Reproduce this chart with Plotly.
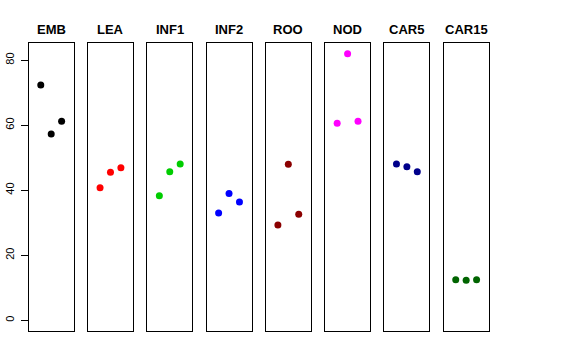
import plotly.graph_objects as go

categories = ["EMB", "LEA", "INF1", "INF2", "ROO", "NOD", "CAR5", "CAR15"]
colors = ["#000000", "#FF0000", "#00CD00", "#0000FF", "#8B0000", "#FF00FF", "#00008B", "#006400"]
positions = [1, 2, 3]
EMB = [72.4, 57.3, 61.2]
LEA = [40.8, 45.5, 46.9]
INF1 = [38.3, 45.7, 48.1]
INF2 = [33.0, 39.0, 36.4]
ROO = [29.3, 48.0, 32.6]
NOD = [60.6, 82.0, 61.2]
CAR5 = [48.1, 47.2, 45.7]
CAR15 = [12.5, 12.3, 12.5]
series = [EMB, LEA, INF1, INF2, ROO, NOD, CAR5, CAR15]
y_ticks = [0, 20, 40, 60, 80]

W, H = 576, 360
left0 = 28.7
pitch = 59.28
pw = 45.0
top_px, bot_px = 43.0, 331.0

fig = go.Figure()
layout = dict(
    width=W, height=H,
    margin=dict(l=0, r=0, t=0, b=0, autoexpand=False),
    paper_bgcolor="white", plot_bgcolor="white",
    showlegend=False,
    font=dict(family="Liberation Sans, Arial, sans-serif", color="black"),
)
annotations = []
for i, (cat, col, vals) in enumerate(zip(categories, colors, series)):
    xa = "x" if i == 0 else f"x{i+1}"
    ya = "y" if i == 0 else f"y{i+1}"
    fig.add_trace(go.Scatter(
        x=positions, y=vals, mode="markers",
        marker=dict(color=col, size=7, line=dict(width=0)),
        xaxis=xa, yaxis=ya,
    ))
    x0 = (left0 + i * pitch) / W
    x1 = (left0 + i * pitch + pw) / W
    xkey = "xaxis" if i == 0 else f"xaxis{i+1}"
    ykey = "yaxis" if i == 0 else f"yaxis{i+1}"
    layout[xkey] = dict(
        domain=[x0, x1], range=[-0.16, 4.16], anchor=ya,
        showgrid=False, zeroline=False, showticklabels=False, ticks="",
        showline=True, mirror=True, linecolor="black", linewidth=1,
        fixedrange=True, automargin=False,
    )
    ydict = dict(
        domain=[1 - bot_px / H, 1 - top_px / H], range=[-3.28, 85.28], anchor=xa,
        showgrid=False, zeroline=False,
        showline=True, mirror=True, linecolor="black", linewidth=1,
        fixedrange=True, automargin=False,
    )
    if i == 0:
        ydict.update(tickvals=y_ticks, ticktext=[str(v) for v in y_ticks],
                     ticks="outside", ticklen=7, tickwidth=1, tickcolor="black",
                     tickangle=-90, tickfont=dict(size=11, color="black"),
                     ticklabelstandoff=2, showticklabels=True)
    else:
        ydict.update(showticklabels=False, ticks="")
    layout[ykey] = ydict
    annotations.append(dict(
        text=f"<b>{cat}</b>", x=(x0 + x1) / 2, y=1 - 29 / H,
        xref="paper", yref="paper", showarrow=False,
        xanchor="center", yanchor="middle",
        font=dict(size=13, color="black"),
    ))
layout["annotations"] = annotations
fig.update_layout(**layout)
fig.write_html("out.html", config={"displayModeBar": False, "staticPlot": True},
               post_script="document.body.style.margin='0';document.body.style.overflow='hidden';")
